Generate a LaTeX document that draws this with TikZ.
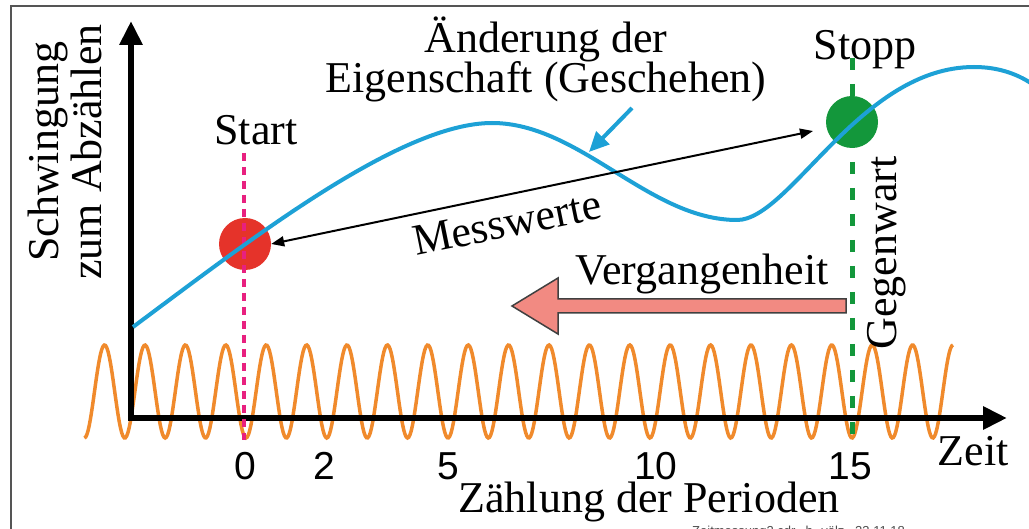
\documentclass[tikz,border=0pt]{standalone}
\usepackage{fontspec}
\setmainfont{Liberation Serif}
\newfontfamily\numfont{Liberation Sans}
\usetikzlibrary{arrows.meta}
\definecolor{curveblue}{HTML}{1DA1D6}
\definecolor{waveorange}{HTML}{F08A2C}
\definecolor{dotred}{HTML}{E5332A}
\definecolor{dotgreen}{HTML}{13973B}
\definecolor{startpink}{HTML}{E8207F}
\definecolor{pastpink}{HTML}{F28A82}
\definecolor{framegray}{HTML}{555555}
\begin{document}
\begin{tikzpicture}[x=1pt,y=-1pt,
  lbl/.style={font=\fontsize{44}{44}\selectfont, inner sep=0pt},
  num/.style={font=\numfont\fontsize{39}{39}\selectfont, inner sep=0pt, anchor=base},
  axisline/.style={line width=6pt, line join=miter,
    {Triangle[length=24pt,width=22pt]}-{Triangle[length=24pt,width=22pt]}},
  dot/.style={circle, minimum size=52pt, inner sep=0pt},
  mwarrow/.style={line width=2pt, {Triangle[length=13pt,width=10pt]}-{Triangle[length=13pt,width=10pt]}},
  ptrarrow/.style={curveblue, line width=4pt, -{Triangle[length=20pt,width=18pt]}},
  pinkdash/.style={startpink, line width=4pt, dash pattern=on 8pt off 6pt},
  greendash/.style={dotgreen, line width=5pt, dash pattern=on 12pt off 14pt},
  bluecurve/.style={curveblue, line width=4pt},
  osc/.style={waveorange, line width=3.5pt},
  pastarrow/.style={fill=pastpink, draw=black!75, line width=1.5pt, line join=miter}
]
\useasboundingbox (0,0) rectangle (1029,529);
\fill[white] (0,0) rectangle (1029,529);
\draw[framegray, line width=2pt] (11,540) -- (11,6) -- (1040,6);

% oscillation
\draw[osc] plot[domain=84.4:953, samples=700] (\x, {391.5 + 46.5*cos((\x-246)/40.4*360)});

% axes
\coordinate (ytip) at (131,21);
\coordinate (orig) at (131,418);
\coordinate (xtip) at (1007,418);
\draw[axisline] (ytip) -- (orig) -- (xtip);

% dots
\node[dot, fill=dotred] (red) at (245,244) {};
\node[dot, fill=dotgreen] (green) at (852,122) {};

% dashed markers
\coordinate (s1) at (244,153);
\coordinate (s2) at (244,440);
\draw[pinkdash] (s1) -- (s2);
\coordinate (g1) at (852,58);
\coordinate (g2) at (852,440);
\draw[greendash] (g1) -- (g2);

% property curve
\draw[bluecurve] (133,327) .. controls (250,240) and (400,123) .. (492,123)
  .. controls (580,123) and (649,220) .. (737,220)
  .. controls (790,220) and (860,67) .. (974,67)
  .. controls (1000,67) and (1020,75) .. (1035,86);

% pointer to curve
\coordinate (p1) at (632,108);
\coordinate (p2) at (589,152);
\draw[ptrarrow] (p1) -- (p2);

% Messwerte arrow
\coordinate (mwR) at (813,131);
\draw[mwarrow] (red.east) -- (mwR);

% past arrow
\draw[pastarrow] (512,306) -- (558,278) -- (558,299) -- (846,299) -- (846,313)
  -- (558,313) -- (558,334) -- cycle;

% texts
\node[lbl, anchor=base] (t1) at (546,53) {Änderung der};
\node[lbl, anchor=base] (t2) at (546,93) {Eigenschaft (Geschehen)};
\node[lbl, anchor=base] (start) at (256,145) {Start};
\node[lbl, anchor=base] (stopp) at (865,60) {Stopp};
\node[lbl, anchor=base] (verg) at (702,285) {Vergangenheit};
\node[lbl, rotate=11.5] (mw) at (507,223) {Messwerte};
\node[lbl, anchor=base, rotate=90] (gw) at (896,253) {Gegenwart};
\node[lbl, anchor=base, rotate=90] (yl1) at (58,152) {Schwingung};
\node[lbl, anchor=base, rotate=90] (yl2) at (101,152) {zum Abzählen};
\node[lbl, anchor=base] (zeit) at (973,465) {Zeit};
\node[lbl, anchor=base] (zp) at (649,512) {Zählung der Perioden};
\node[num] (n0) at (245,479) {0};
\node[num] (n2) at (324,479) {2};
\node[num] (n5) at (448,479) {5};
\node[num] (n10) at (656,479) {10};
\node[num] (n15) at (850,479) {15};
\node[font=\numfont\fontsize{13}{13}\selectfont, text=black!70, inner sep=0pt, anchor=base west] (foot) at (692,535) {Zeitmessung2.cdr,\ \ h. völz,\ \ 23.11.18};
\end{tikzpicture}
\end{document}
